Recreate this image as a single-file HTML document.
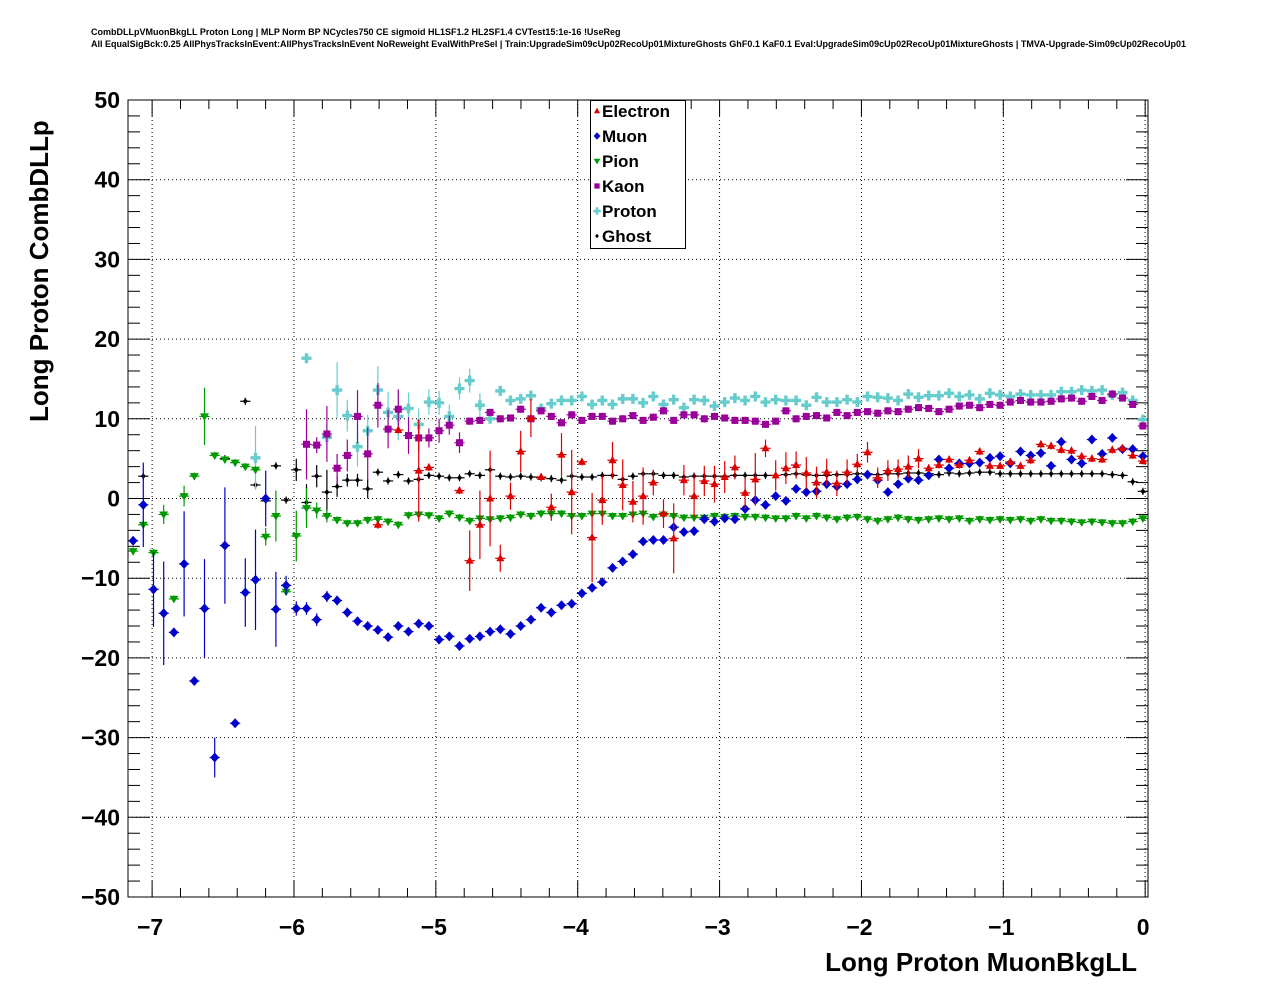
<!DOCTYPE html>
<html><head><meta charset="utf-8"><style>
html,body{margin:0;padding:0;background:#fff;}
svg{display:block;font-family:"Liberation Sans",Arial,sans-serif;}
</style></head><body>
<svg id="chart" width="1276" height="996" viewBox="0 0 1276 996" xmlns="http://www.w3.org/2000/svg">
<rect x="0" y="0" width="1276" height="996" fill="#fff"/>
<text x="91" y="35" font-size="9" font-weight="bold">CombDLLpVMuonBkgLL Proton Long | MLP Norm BP NCycles750 CE sigmoid HL1SF1.2 HL2SF1.4 CVTest15:1e-16 !UseReg</text>
<text x="91" y="47" font-size="9" font-weight="bold" textLength="1095" lengthAdjust="spacingAndGlyphs">All EqualSigBck:0.25 AllPhysTracksInEvent:AllPhysTracksInEvent NoReweight EvalWithPreSel | Train:UpgradeSim09cUp02RecoUp01MixtureGhosts GhF0.1 KaF0.1 Eval:UpgradeSim09cUp02RecoUp01MixtureGhosts | TMVA-Upgrade-Sim09cUp02RecoUp01</text>
<g id="grid"></g>
<g id="axes"></g>
<g id="marks"></g>
<rect x="128" y="100" width="1020" height="797" fill="none" stroke="#000" stroke-width="1"/>
<text transform="translate(48,422) rotate(-90)" font-size="26" font-weight="bold">Long Proton CombDLLp</text>
<text x="1137" y="971" text-anchor="end" font-size="26" font-weight="bold">Long Proton MuonBkgLL</text>
<g id="legend">
<rect x="590.5" y="100.5" width="95" height="148" fill="#fff" stroke="#000"/>
</g>
</svg>
<script>
const xTicks = [-7,-6,-5,-4,-3,-2,-1,0];
const yTicks = [50,40,30,20,10,0,-10,-20,-30,-40,-50];
const seriesNames = ["Electron","Muon","Pion","Kaon","Proton","Ghost"];
const N = 100;
const _ = null;
function arr(start, vals){const a=new Array(N).fill(null);vals.forEach((v,k)=>{a[start+k]=v;});return a;}
const muon = arr(0,[-5.3,-0.8,-11.4,-14.4,-16.8,-8.2,-22.9,-13.8,-32.5,-5.9,-28.2,-11.8,-10.2,0,-13.9,-10.9,-13.8,-13.8,-15.2,-12.3,-12.8,-14.3,-15.4,-16.0,-16.5,-17.4,-16.0,-16.7,-15.7,-16.0,-17.7,-17.3,-18.5,-17.6,-17.3,-16.7,-16.4,-17.0,-16.0,-15.2,-13.7,-14.3,-13.4,-13.2,-11.9,-11.2,-10.5,-8.7,-7.9,-7.0,-5.4,-5.2,-5.2,-3.6,-4.2,-4.1,-2.6,-2.9,-2.5,-2.6,-1.3,-0.2,-0.8,0.3,-0.3,1.2,0.8,0.9,1.8,1.5,1.8,2.4,3.0,2.3,0.8,1.8,2.5,2.3,2.9,4.9,3.8,4.4,4.4,4.5,5.1,5.3,4.4,5.9,5.4,5.7,4.1,7.1,4.9,4.4,7.4,5.6,7.6,6.2,6.2,5.3]);
const pion = arr(0,[-6.6,-3.3,-6.8,-2.0,-12.6,0.3,2.8,10.3,5.4,4.9,4.5,4.0,3.6,-4.8,-2.2,-11.7,-4.7,-1.2,-1.5,-2.2,-2.7,-3.1,-3.1,-2.7,-2.6,-2.9,-3.3,-2.1,-2.0,-2.1,-2.5,-1.9,-2.4,-2.8,-2.5,-2.6,-2.5,-2.4,-2.0,-2.2,-1.9,-1.9,-1.9,-2.2,-2.2,-1.9,-1.9,-2.2,-2.2,-2.0,-1.9,-2.3,-2.0,-2.2,-2.4,-2.4,-2.4,-2.2,-2.3,-2.2,-2.3,-2.3,-2.4,-2.5,-2.5,-2.2,-2.5,-2.2,-2.4,-2.6,-2.4,-2.3,-2.6,-2.8,-2.6,-2.4,-2.6,-2.7,-2.6,-2.5,-2.6,-2.5,-2.8,-2.6,-2.7,-2.6,-2.7,-2.6,-2.8,-2.6,-2.8,-2.8,-2.9,-3.0,-2.9,-3.0,-3.1,-3.1,-2.9,-2.5]);
const ghost = arr(0,[_,2.8,_,_,_,_,_,_,_,5.0,_,12.2,1.7,-0.3,4.1,-0.2,3.6,-0.5,2.8,0.8,1.5,2.3,2.3,1.2,3.3,2.2,3.0,2.2,2.4,2.9,2.8,2.6,2.6,3.1,2.9,3.6,2.8,2.7,2.8,2.7,2.6,2.5,2.3,2.8,2.7,2.7,2.9,2.9,2.4,2.8,3.1,3.1,2.9,2.9,2.7,2.8,2.8,2.8,2.8,2.9,2.9,2.9,2.9,2.9,3.0,3.1,3.0,2.9,2.9,3.0,3.0,3.1,3.1,3.0,3.1,3.1,3.2,3.2,3.1,3.0,3.2,3.1,3.2,3.3,3.3,3.1,3.1,3.1,3.1,3.1,3.1,3.1,3.1,3.1,3.1,3.1,3.0,2.9,2.1,0.9]);
const kaon = arr(17,[6.8,6.7,8.1,3.8,5.4,10.3,5.6,11.7,8.7,11.2,7.9,7.6,7.6,8.5,9.2,7.0,9.7,9.8,10.8,10.0,10.1,11.2,10.0,11.0,10.3,9.5,10.5,9.8,10.3,10.3,9.7,10.0,10.4,9.8,10.2,11.0,9.8,10.5,10.5,10.0,10.3,10.1,9.8,9.8,9.7,9.3,9.7,11.0,10.0,10.3,10.4,10.1,10.8,10.4,10.8,10.9,10.7,11.0,10.9,11.2,11.4,11.3,10.9,11.2,11.6,11.7,11.4,11.8,11.7,12.1,12.3,12.1,12.1,12.2,12.5,12.6,12.2,12.8,12.3,13.1,12.6,11.8,9.1]);
const proton = arr(12,[5.1,_,_,_,_,17.6,_,7.7,13.6,10.4,6.5,8.5,13.6,10.8,10.3,11.3,9.3,12.1,12.0,10.3,13.8,14.8,11.7,10.0,13.5,12.3,12.5,12.9,11.3,11.9,12.3,12.3,12.8,11.8,12.3,11.8,12.5,12.5,12.0,12.8,11.8,12.4,11.4,12.4,12.3,11.6,12.1,12.6,12.3,12.8,12.1,12.4,12.3,12.3,11.7,12.7,12.1,12.1,12.4,12.1,12.8,12.7,12.6,12.3,13.1,12.7,12.9,12.9,13.2,12.8,13.0,12.5,13.2,13.0,12.8,13.1,13.0,13.0,13.0,13.4,13.4,13.6,13.5,13.6,13.0,13.3,12.3,9.9]);
const electron = arr(24,[-3.3,_,8.6,_,3.5,3.9,_,_,1.0,-7.8,-3.3,0.0,-7.5,0.3,5.9,10.1,2.7,-1.1,5.5,0.8,4.6,-4.9,-0.2,4.8,1.7,-0.4,0.3,2.0,-1.9,-5.0,2.3,0.3,2.2,1.8,2.7,3.9,0.7,2.4,6.3,2.9,3.8,4.2,3.2,2.0,3.3,1.9,3.3,4.3,5.8,2.6,3.5,3.7,4.0,5.0,3.8,4.2,4.9,4.2,4.8,5.9,4.1,4.1,4.6,4.1,4.8,6.8,6.6,6.1,6.0,5.3,5.0,4.9,6.1,6.3,5.4,4.7]);
const muonErr = {1:5.3,2:4.7,3:6.5,4:0.4,5:6.6,7:6.2,8:2.5,9:7.3,11:4.3,12:6.3,13:3.5,14:4.7,15:1.2,16:0.9,17:0.8,18:0.8,19:0.7,20:0.6,21:0.6};
const pionErr = {3:1.2,5:1.3,7:3.6,13:1.1,14:3.2,16:3.2,17:2.5,18:1.0,19:0.8};
const ghostErr = {16:1.4,17:2.3,18:1.4,19:2.8,20:1.3,21:0.8,22:0.8,23:1.2};
const kaonErr = {17:4.4,18:1.0,19:3.5,20:1.8,21:2.0,22:3.3,23:3.3,24:2.8,25:2.4,26:2.5,27:2.3,28:1.7,29:1.2,30:1.5,31:1.2,32:1.3};
const protonErr = {12:4.0,19:1.5,20:3.5,21:2.0,22:2.5,23:2.0,24:3.0,25:2.6,26:3.0,27:2.0,28:2.0,29:1.6,30:1.5,31:1.5,32:1.4,33:1.5,34:1.5};
const electronErr = {24:0.5,28:6.4,33:3.8,34:4.3,35:6.0,36:1.7,37:1.7,38:2.6,39:2.4,41:1.7,42:2.7,43:5.3,45:5.6,46:3.1,47:2.3,48:3.2,49:2.6,50:3.6,51:1.6,52:1.8,53:4.4,54:1.9,55:2.7,56:1.9,57:2.3,58:2.0,59:1.5,60:2.0,61:3.3,62:1.1,63:1.9,64:2.0,65:1.7,66:2.0,67:2.0,68:1.7,69:1.6,70:1.6,71:1.3,72:1.3,73:1.3,74:1.3,75:1.2,76:1.4,77:1.2};

const X0=-7.17, X1=0.02, Y0=-50, Y1=50;
const PL=128, PR=1148, PT=100, PB=897;
function sx(v){return PL+(v-X0)/(X1-X0)*(PR-PL);}
function sy(v){return PB-(v-Y0)/(Y1-Y0)*(PB-PT);}
function binCenter(i){return X0+(i+0.5)*(X1-X0)/N;}
const halfBin=(X1-X0)/N/2;
const NS="http://www.w3.org/2000/svg";
function mk(tag,attrs,parent){const e=document.createElementNS(NS,tag);for(const k in attrs)e.setAttribute(k,attrs[k]);parent.appendChild(e);return e;}
const grid=document.getElementById('grid'), axes=document.getElementById('axes'), marks=document.getElementById('marks');

xTicks.forEach(t=>{
  const x=sx(t);
  if(t>X0&&t<X1){const g=mk('line',{x1:x,x2:x,y1:PT,y2:PB,stroke:'#000','stroke-width':1,'stroke-dasharray':'1,3'},grid);
  
  }
  const lab=mk('text',{x:x-2,y:935,'text-anchor':'middle','font-size':23,'font-weight':'bold'},axes);
  lab.textContent=(t<0?'\u2212':'')+Math.abs(t);
  
  
});
for(let k=-36;k<=0;k++){const t=k*0.2;const x=sx(t);if(x<PL||x>PR)continue;const major=(k%5===0);const L=major?16:9;
  mk('line',{x1:x,x2:x,y1:PB,y2:PB-L,stroke:'#000'},axes);
  mk('line',{x1:x,x2:x,y1:PT,y2:PT+L,stroke:'#000'},axes);}
yTicks.forEach(t=>{
  const y=sy(t);
  if(t>Y0&&t<Y1){const g=mk('line',{x1:PL,x2:PR,y1:y,y2:y,stroke:'#000','stroke-width':1,'stroke-dasharray':'1,3'},grid);
  
  }
  const lab=mk('text',{x:120,y:y+8,'text-anchor':'end','font-size':23,'font-weight':'bold'},axes);
  lab.textContent=(t<0?'\u2212':'')+Math.abs(t);
  
  
});
for(let v=-50;v<=50;v+=2){const y=sy(v);const major=(v%10===0);const L=major?22:12;
  mk('line',{x1:PL,x2:PL+L,y1:y,y2:y,stroke:'#000'},axes);
  mk('line',{x1:PR,x2:PR-L,y1:y,y2:y,stroke:'#000'},axes);}

function marker(type,cx,cy,color,parent,s){
  s=s||1;let e;
  if(type==='tri-up')e=mk('polygon',{points:`${cx},${cy-4.5*s} ${cx-4*s},${cy+3*s} ${cx+4*s},${cy+3*s}`,fill:color},parent);
  else if(type==='tri-down')e=mk('polygon',{points:`${cx},${cy+4.5*s} ${cx-4.5*s},${cy-3*s} ${cx+4.5*s},${cy-3*s}`,fill:color},parent);
  else if(type==='diamond')e=mk('polygon',{points:`${cx},${cy-5*s} ${cx+4.5*s},${cy} ${cx},${cy+5*s} ${cx-4.5*s},${cy}`,fill:color},parent);
  else if(type==='square')e=mk('rect',{x:cx-3.5*s,y:cy-3.5*s,width:7*s,height:7*s,fill:color},parent);
  else if(type==='cross')e=mk('path',{d:`M${cx-1.7*s},${cy-5*s}h${3.4*s}v${3.3*s}h${3.3*s}v${3.4*s}h${-3.3*s}v${3.3*s}h${-3.4*s}v${-3.3*s}h${-3.3*s}v${-3.4*s}h${3.3*s}z`,fill:color},parent);
  else e=mk('polygon',{points:`${cx},${cy-3*s} ${cx+2.5*s},${cy} ${cx},${cy+3*s} ${cx-2.5*s},${cy}`,fill:color},parent);
  return e;
}
const seriesDefs=[
  {name:'electron',vals:electron,err:electronErr,color:'#dd0000',m:'tri-up'},
  {name:'muon',vals:muon,err:muonErr,color:'#0000cc',m:'diamond'},
  {name:'pion',vals:pion,err:pionErr,color:'#009900',m:'tri-down'},
  {name:'kaon',vals:kaon,err:kaonErr,color:'#990099',m:'square'},
  {name:'proton',vals:proton,err:protonErr,color:'#66cccc',m:'cross'},
  {name:'ghost',vals:ghost,err:ghostErr,color:'#000000',m:'dot'}
];
const order=[5,4,3,2,1,0];
order.forEach(si=>{
  const s=seriesDefs[si];
  const g=mk('g',{},marks);
  
  
  s.vals.forEach((v,i)=>{
    if(v===null||v===undefined)return;
    const xc=binCenter(i);const cx=sx(xc),cy=sy(v);
    const e=s.err[i]!==undefined?s.err[i]:0.45;
    mk('line',{x1:sx(xc-halfBin),x2:sx(xc+halfBin),y1:cy,y2:cy,stroke:s.color,'stroke-width':1.2},g);
    mk('line',{x1:cx,x2:cx,y1:sy(v+e),y2:sy(v-e),stroke:s.color,'stroke-width':1.2},g);
    const p=marker(s.m,cx,cy,s.color,g);
    
    
  });
});
const leg=document.getElementById('legend');
seriesNames.forEach((n,k)=>{
  const y=111+k*25;const s=seriesDefs[k];
  const e=marker(s.m,597,y,s.color,leg,0.75);
  
  
  const t=mk('text',{x:602,y:y+6,'font-size':17,'font-weight':'bold'},leg);
  t.textContent=n;
  
  
});
</script>
</body></html>
